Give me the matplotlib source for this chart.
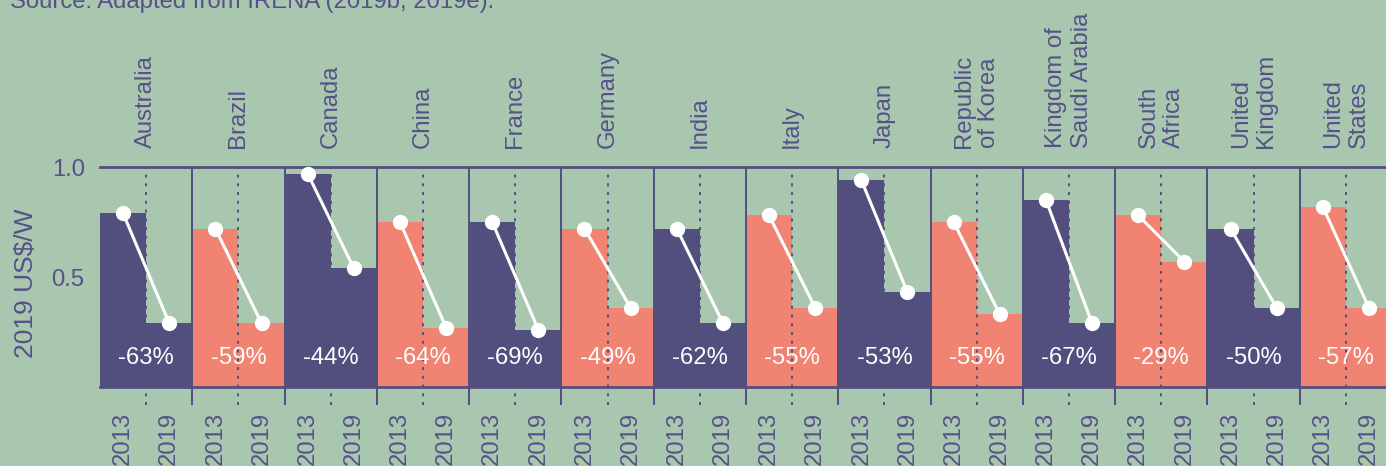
import numpy as np
import matplotlib
matplotlib.use("Agg")
import matplotlib.pyplot as plt

# ---------------------------------------------------------------
#  DATA
# ---------------------------------------------------------------
countries = ["Australia", "Brazil", "Canada", "China", "France", "Germany",
             "India", "Italy", "Japan", "Republic\nof Korea",
             "Kingdom of\nSaudi Arabia", "South\nAfrica", "United\nKingdom",
             "United\nStates"]
cost_2013 = [0.79, 0.72, 0.97, 0.75, 0.75, 0.72, 0.72, 0.78, 0.94, 0.75,
             0.85, 0.78, 0.72, 0.82]
cost_2019 = [0.29, 0.29, 0.54, 0.27, 0.26, 0.36, 0.29, 0.36, 0.43, 0.33,
             0.29, 0.57, 0.36, 0.36]
change_pct = [-63, -59, -44, -64, -69, -49, -62, -55, -53, -55, -67, -29,
              -50, -57]
years = ["2013", "2019"]

# ---------------------------------------------------------------
#  STYLE
# ---------------------------------------------------------------
bg = "#a9c6ae"
purple = "#524f7e"
salmon = "#f08372"
txt = "#55528a"
fs = 17.2

plt.rcParams['font.family'] = ['Liberation Sans', 'DejaVu Sans']

fig = plt.figure(figsize=(13.86, 4.66), dpi=100, facecolor=bg)
ax = fig.add_axes([100/1386, 79/466, 1292/1386, 220/466])
ax.set_facecolor(bg)

n = len(countries)
idx = np.arange(n)
colors = [purple if i % 2 == 0 else salmon for i in range(n)]

ax.bar(idx + 0.25, cost_2013, width=0.5, color=colors, zorder=2)
ax.bar(idx + 0.75, cost_2019, width=0.5, color=colors, zorder=2)

# panel separators and dotted centre lines
ax.vlines(idx[1:], -0.082, 1.0, color=purple, lw=1.4, clip_on=False, zorder=3)
ax.vlines(idx + 0.5, -0.082, 1.0, color=purple, lw=1.4,
          linestyles=(0, (1.5, 3)), clip_on=False, zorder=3)

# white slope lines, change labels, country names
for i in range(n):
    ax.plot([i + 0.25, i + 0.75], [cost_2013[i], cost_2019[i]], color="white",
            lw=2.2, marker="o", ms=10, zorder=5, clip_on=False)
    ax.text(i + 0.5, 0.13, f"{change_pct[i]}%", ha="center", va="center",
            color="white", fontsize=fs, zorder=6)
    ax.annotate(countries[i], xy=(i + 0.5, 1.0), xytext=(0, 14),
                textcoords="offset points", rotation=90, ha="center",
                va="bottom", multialignment="left", color=txt, fontsize=fs,
                annotation_clip=False)

ax.set_xlim(0, n)
ax.set_ylim(0, 1.0)

ax.set_xticks(np.concatenate([idx + 0.25, idx + 0.75]))
ax.set_xticklabels(years[:1] * n + years[1:] * n, rotation=90)
ax.tick_params(axis="x", length=0, pad=18, labelsize=fs, labelcolor=txt)
ax.set_yticks([0.5, 1.0])
ax.set_yticklabels(["0.5", "1.0"])
ax.tick_params(axis="y", length=0, pad=11, labelsize=fs, labelcolor=txt)
ax.set_ylabel("2019 US$/W", fontsize=19, color=txt)
ax.yaxis.set_label_coords(-0.048, 0.47)

for side in ["left", "right"]:
    ax.spines[side].set_visible(False)
for side in ["top", "bottom"]:
    ax.spines[side].set_color(purple)
    ax.spines[side].set_linewidth(2)
    ax.spines[side].set_zorder(4)

fig.text(10/1386, 1 - 8/466, "Source: Adapted from IRENA (2019b, 2019e).",
         fontsize=fs, color=txt, va="baseline", ha="left")

fig.savefig("out.png", dpi=100, facecolor=bg)
